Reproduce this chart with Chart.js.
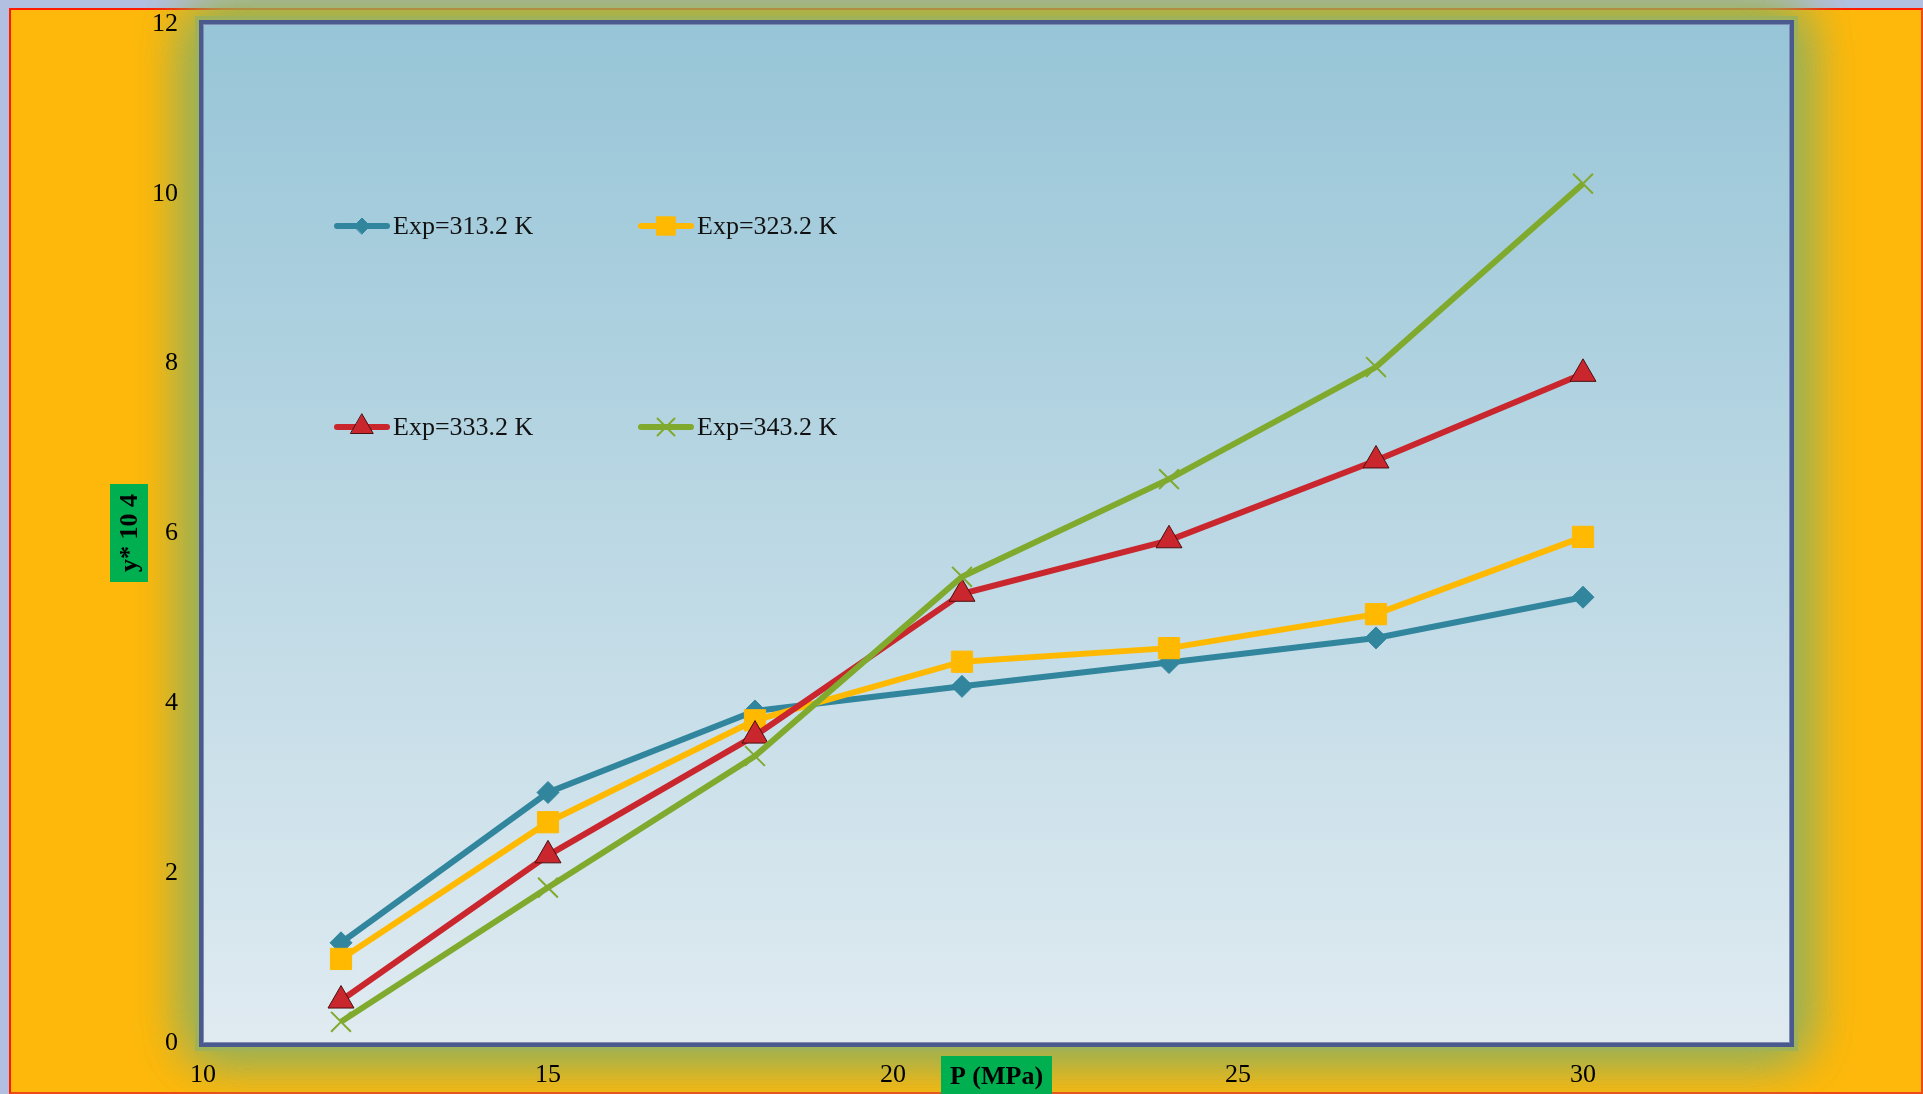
<!DOCTYPE html>
<html><head><meta charset="utf-8">
<script src="https://cdn.jsdelivr.net/npm/chart.js@4/dist/chart.umd.min.js"></script>
<style>
html,body{margin:0;padding:0;background:#b3bfe1;width:1923px;height:1094px;overflow:hidden}
#frame{position:absolute;left:9px;top:8px;width:1910px;height:1082px;background:#feb80c;border:2px solid #ff1a00;border-bottom-color:#ee4a1a;border-right-color:#ee4a1a}
#c{position:absolute;left:0;top:0}
</style></head><body>
<div id="frame"></div>
<canvas id="c" width="1923" height="1094"></canvas>
<script>
// ---- data ----
const pressures = [12, 15, 18, 21, 24, 27, 30];
const exp313 = [1.18, 2.95, 3.91, 4.20, 4.48, 4.77, 5.25];
const exp323 = [0.99, 2.60, 3.80, 4.49, 4.65, 5.05, 5.96];
const exp333 = [0.50, 2.21, 3.62, 5.29, 5.92, 6.86, 7.88];
const exp343 = [0.25, 1.83, 3.38, 5.49, 6.64, 7.96, 10.12];
const seriesLabels = ['Exp=313.2 K', 'Exp=323.2 K', 'Exp=333.2 K', 'Exp=343.2 K'];
const xTickValues = [10, 15, 20, 25, 30];
const yTickValues = [0, 2, 4, 6, 8, 10, 12];
const xTitle = 'P (MPa)';
const yTitle = 'y* 10 4';

const FONT = '"Liberation Serif", "DejaVu Serif", serif';

const styles = [
  {color:'#31869e', point:'rectRot', r:11, lr:8, pb:'#31869e', bw:1},
  {color:'#ffb900', point:'rect', r:15, lr:13, pb:'#ffb900', bw:1},
  {color:'#c9262d', point:'triangle', r:15, lr:13, pb:'#4a1010', bw:1},
  {color:'#80aa2e', point:'crossRot', r:14, lr:12, pb:'#80aa2e', bw:2}
];
const seriesValues = [exp313, exp323, exp333, exp343];

const datasets = seriesValues.map((vals, i) => ({
  label: seriesLabels[i],
  data: pressures.map((p, k) => ({x: p, y: vals[k]})),
  borderColor: styles[i].color,
  backgroundColor: styles[i].color,
  borderWidth: 6,
  pointStyle: styles[i].point,
  pointRadius: styles[i].r,
  pointBackgroundColor: styles[i].color,
  pointBorderColor: styles[i].pb,
  pointBorderWidth: styles[i].bw,
  tension: 0,
  order: 4 - i
}));

const decor = {
  id: 'decor',
  beforeDraw(chart) {
    const {ctx, chartArea: a} = chart;
    ctx.save();
    ctx.shadowColor = '#9cb155';
    ctx.shadowBlur = 50;
    ctx.fillStyle = '#9fb257';
    for (let k = 0; k < 3; k++) ctx.fillRect(a.left - 8, a.top - 8, a.width + 16, a.height + 16);
    ctx.restore();
    ctx.save();
    const g = ctx.createLinearGradient(0, a.top, 0, a.bottom);
    g.addColorStop(0, '#97c5d7');
    g.addColorStop(1, '#e0ebf1');
    ctx.fillStyle = g;
    ctx.fillRect(a.left, a.top, a.width, a.height);
    ctx.lineWidth = 4;
    ctx.strokeStyle = '#4b5a8e';
    ctx.strokeRect(a.left - 2, a.top - 2, a.width + 4, a.height + 4);
    ctx.lineWidth = 1;
    ctx.strokeStyle = '#7d8cb0';
    ctx.strokeRect(a.left + 0.5, a.top + 0.5, a.width - 1, a.height - 1);
    ctx.restore();
  },
  afterDraw(chart) {
    const ctx = chart.ctx;
    // legend
    const cols = [337, 641];
    const rows = [226, 427];
    chart.data.datasets.forEach((ds, i) => {
      const x0 = cols[i % 2], y0 = rows[Math.floor(i / 2)];
      const st = styles[i];
      ctx.save();
      ctx.strokeStyle = ds.borderColor;
      ctx.lineWidth = 6;
      ctx.lineCap = 'round';
      ctx.beginPath();
      ctx.moveTo(x0, y0); ctx.lineTo(x0 + 50, y0);
      ctx.stroke();
      ctx.fillStyle = ds.pointBackgroundColor;
      ctx.strokeStyle = ds.pointBorderColor;
      ctx.lineWidth = st.bw;
      Chart.helpers.drawPoint(ctx, {pointStyle: st.point, rotation: 0, radius: st.lr, borderWidth: st.bw}, x0 + 25, y0);
      ctx.fillStyle = '#111';
      ctx.font = '26px ' + FONT;
      ctx.textBaseline = 'middle';
      ctx.textAlign = 'left';
      ctx.fillText(ds.label, x0 + 56, y0 + 1);
      ctx.restore();
    });
    // axis titles
    ctx.save();
    ctx.fillStyle = '#00b050';
    ctx.fillRect(941, 1056, 111, 40);
    ctx.fillStyle = '#000';
    ctx.font = 'bold 26px ' + FONT;
    ctx.textAlign = 'center';
    ctx.textBaseline = 'middle';
    ctx.fillText(xTitle, 996.5, 1077);
    ctx.translate(129, 533);
    ctx.rotate(-Math.PI / 2);
    ctx.fillStyle = '#00b050';
    ctx.fillRect(-49, -19, 98, 38);
    ctx.fillStyle = '#000';
    ctx.fillText(yTitle, 0, 1);
    ctx.restore();
  }
};

new Chart(document.getElementById('c'), {
  type: 'line',
  data: {datasets},
  options: {
    responsive: false,
    animation: false,
    devicePixelRatio: 1,
    layout: {autoPadding: false, padding: {left: 0, top: 24, right: 133, bottom: 0}},
    plugins: {legend: {display: false}, tooltip: {enabled: false}},
    scales: {
      x: {
        type: 'linear', min: 10, max: 33,
        grid: {display: false, drawTicks: false},
        border: {display: false},
        afterFit: s => { s.height = 51; s.paddingLeft = 0; s.paddingRight = 0; },
        afterBuildTicks: s => { s.ticks = xTickValues.map(v => ({value: v})); },
        ticks: {padding: 17, color: '#000', font: {family: FONT, size: 26}, maxRotation: 0}
      },
      y: {
        type: 'linear', min: 0, max: 12,
        grid: {display: false, drawTicks: false},
        border: {display: false},
        afterFit: s => { s.width = 203; s.paddingTop = 0; s.paddingBottom = 0; },
        afterBuildTicks: s => { s.ticks = yTickValues.map(v => ({value: v})); },
        ticks: {padding: 25, color: '#000', font: {family: FONT, size: 26}}
      }
    }
  },
  plugins: [decor]
});
</script>
</body></html>
